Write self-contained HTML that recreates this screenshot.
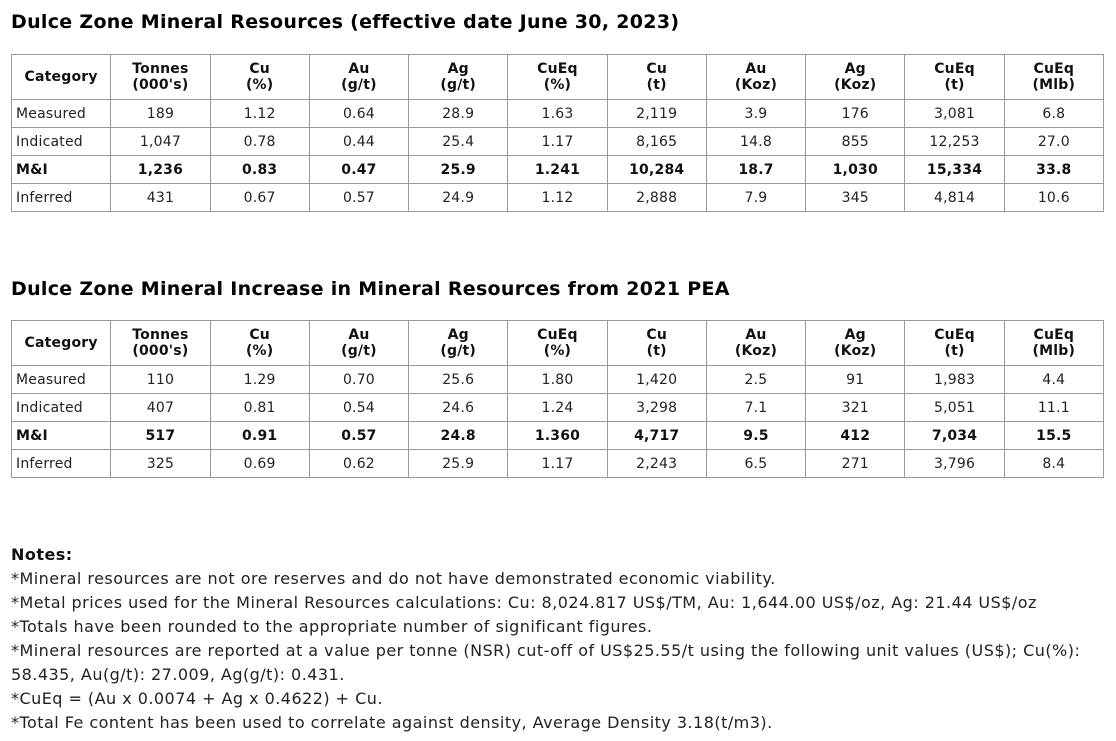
<!DOCTYPE html>
<html><head><meta charset="utf-8"><style>
body{margin:0;width:1116px;height:741px;background:#fff;font-family:"Verdana","DejaVu Sans",sans-serif;color:#222;position:relative;overflow:hidden}
h2{position:absolute;left:11px;margin:0;font-size:19px;letter-spacing:0.3px;font-weight:bold;color:#000;white-space:nowrap}
table{position:absolute;left:11px;width:1093px;border-collapse:collapse;border:1.5px solid #444;table-layout:fixed;font-size:14px;letter-spacing:0.2px}
td,th{border:1px solid #999;text-align:center;padding:0;height:27px;line-height:16px}
th{height:44px;font-weight:bold;color:#111}
td:first-child{text-align:left;padding-left:4px}
tr.b td{font-weight:bold;color:#111}
.notes{position:absolute;left:11px;top:543px;font-size:16px;letter-spacing:0.47px;line-height:24px;width:1105px;white-space:nowrap;color:#222}
</style></head><body>
<h2 style="top:11px">Dulce Zone Mineral Resources (effective date June 30, 2023)</h2>
<table style="top:54px">
<tr><th>Category</th><th>Tonnes<br>(000's)</th><th>Cu<br>(%)</th><th>Au<br>(g/t)</th><th>Ag<br>(g/t)</th><th>CuEq<br>(%)</th><th>Cu<br>(t)</th><th>Au<br>(Koz)</th><th>Ag<br>(Koz)</th><th>CuEq<br>(t)</th><th>CuEq<br>(Mlb)</th></tr>
<tr><td>Measured</td><td>189</td><td>1.12</td><td>0.64</td><td>28.9</td><td>1.63</td><td>2,119</td><td>3.9</td><td>176</td><td>3,081</td><td>6.8</td></tr>
<tr><td>Indicated</td><td>1,047</td><td>0.78</td><td>0.44</td><td>25.4</td><td>1.17</td><td>8,165</td><td>14.8</td><td>855</td><td>12,253</td><td>27.0</td></tr>
<tr class="b"><td>M&amp;I</td><td>1,236</td><td>0.83</td><td>0.47</td><td>25.9</td><td>1.241</td><td>10,284</td><td>18.7</td><td>1,030</td><td>15,334</td><td>33.8</td></tr>
<tr><td>Inferred</td><td>431</td><td>0.67</td><td>0.57</td><td>24.9</td><td>1.12</td><td>2,888</td><td>7.9</td><td>345</td><td>4,814</td><td>10.6</td></tr>
</table>
<h2 style="top:278px">Dulce Zone Mineral Increase in Mineral Resources from 2021 PEA</h2>
<table style="top:320px">
<tr><th>Category</th><th>Tonnes<br>(000's)</th><th>Cu<br>(%)</th><th>Au<br>(g/t)</th><th>Ag<br>(g/t)</th><th>CuEq<br>(%)</th><th>Cu<br>(t)</th><th>Au<br>(Koz)</th><th>Ag<br>(Koz)</th><th>CuEq<br>(t)</th><th>CuEq<br>(Mlb)</th></tr>
<tr><td>Measured</td><td>110</td><td>1.29</td><td>0.70</td><td>25.6</td><td>1.80</td><td>1,420</td><td>2.5</td><td>91</td><td>1,983</td><td>4.4</td></tr>
<tr><td>Indicated</td><td>407</td><td>0.81</td><td>0.54</td><td>24.6</td><td>1.24</td><td>3,298</td><td>7.1</td><td>321</td><td>5,051</td><td>11.1</td></tr>
<tr class="b"><td>M&amp;I</td><td>517</td><td>0.91</td><td>0.57</td><td>24.8</td><td>1.360</td><td>4,717</td><td>9.5</td><td>412</td><td>7,034</td><td>15.5</td></tr>
<tr><td>Inferred</td><td>325</td><td>0.69</td><td>0.62</td><td>25.9</td><td>1.17</td><td>2,243</td><td>6.5</td><td>271</td><td>3,796</td><td>8.4</td></tr>
</table>
<div class="notes"><b style="color:#111">Notes:</b><br>
*Mineral resources are not ore reserves and do not have demonstrated economic viability.<br>
*Metal prices used for the Mineral Resources calculations: Cu: 8,024.817 US$/TM, Au: 1,644.00 US$/oz, Ag: 21.44 US$/oz<br>
*Totals have been rounded to the appropriate number of significant figures.<br>
*Mineral resources are reported at a value per tonne (NSR) cut-off of US$25.55/t using the following unit values (US$); Cu(%):<br>
58.435, Au(g/t): 27.009, Ag(g/t): 0.431.<br>
*CuEq = (Au x 0.0074 + Ag x 0.4622) + Cu.<br>
*Total Fe content has been used to correlate against density, Average Density 3.18(t/m3).</div>
</body></html>
